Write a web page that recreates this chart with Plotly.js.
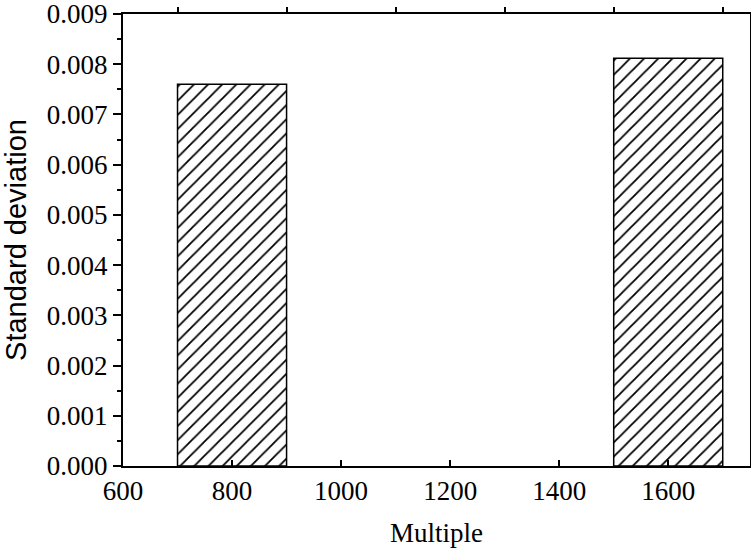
<!DOCTYPE html>
<html><head><meta charset="utf-8">
<script src="https://cdn.plot.ly/plotly-3.0.1.min.js"></script>
<style>html,body{margin:0;padding:0;background:#fff}</style>
</head><body>
<div id="chart" style="width:751px;height:549px"></div>
<script>
const multiples = [800, 1600];
const stdDev = [0.0076, 0.00812];
const barWidth = 200;
const xTickVals = [600, 800, 1000, 1200, 1400, 1600];
const topTickVals = [700, 900, 1100, 1300, 1500, 1700];

const traces = [
  {
    type: 'bar', x: multiples, y: stdDev, width: barWidth,
    marker: {color: '#fff', line: {color: '#000', width: 1.5},
      pattern: {shape: '/', size: 10, solidity: 0.18, fgcolor: '#000', bgcolor: '#fff'}},
    hoverinfo: 'skip'
  },
  {type: 'scatter', x: [], y: [], xaxis: 'x2', yaxis: 'y', showlegend: false}
];

const layout = {
  width: 751, height: 549,
  margin: {l: 123, r: 1, t: 14, b: 83},
  paper_bgcolor: '#fff', plot_bgcolor: '#fff',
  showlegend: false,
  bargap: 0,
  xaxis: {
    range: [600, 1750], tickvals: xTickVals, ticks: 'inside', ticklen: 6, tickwidth: 2,
    tickcolor: '#000', showline: true, linecolor: '#000', linewidth: 2, showgrid: false,
    zeroline: false, mirror: false,
    tickfont: {family: 'Liberation Serif, Times New Roman, serif', size: 27, color: '#000'},
    title: {text: 'Multiple', font: {family: 'Liberation Serif, Times New Roman, serif', size: 27, color: '#000'}, standoff: 18}
  },
  xaxis2: {
    overlaying: 'x', side: 'top', range: [600, 1750], tickvals: topTickVals,
    ticks: 'outside', ticklen: 5, tickwidth: 2, tickcolor: '#000',
    showticklabels: false, showline: true, linecolor: '#000', linewidth: 2,
    showgrid: false, zeroline: false
  },
  yaxis: {
    range: [0, 0.009], dtick: 0.001, tick0: 0, tickformat: '.3f',
    ticks: 'outside', ticklen: 8, tickwidth: 2, tickcolor: '#000',
    ticklabeloverflow: 'allow',
    minor: {dtick: 0.0005, ticks: 'outside', ticklen: 4, tickwidth: 2, tickcolor: '#000', showgrid: false},
    showline: true, linecolor: '#000', linewidth: 2, mirror: true, showgrid: false, zeroline: false,
    tickfont: {family: 'Liberation Serif, Times New Roman, serif', size: 27, color: '#000'},
    title: {text: 'Standard deviation', font: {family: 'Liberation Sans, Arial, sans-serif', size: 29, color: '#000'}, standoff: 18}
  }
};

Plotly.newPlot('chart', traces, layout, {displayModeBar: false, staticPlot: true});
</script>
</body></html>
